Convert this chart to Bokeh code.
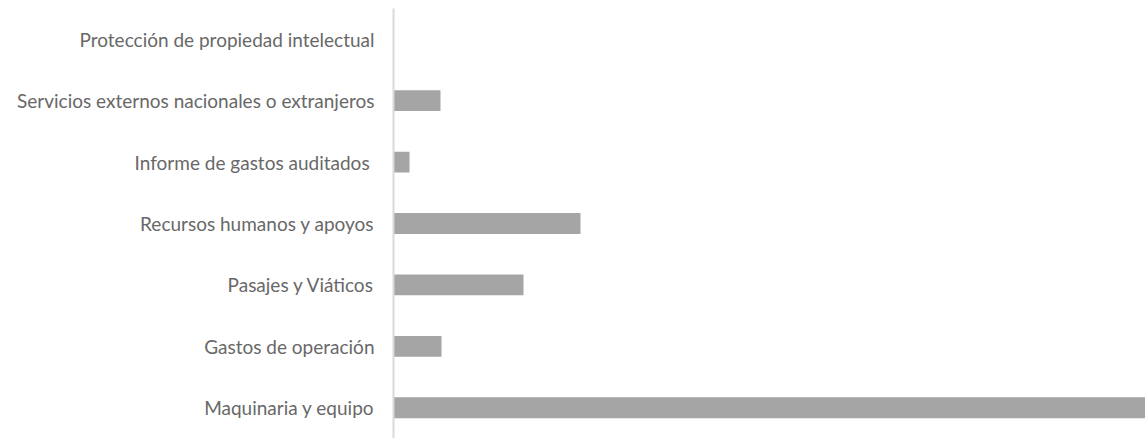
from bokeh.plotting import figure
from bokeh.models import Range1d, FactorRange
from bokeh.embed import file_html
from bokeh.resources import INLINE

categories = [
    "Maquinaria y equipo",
    "Gastos de operación",
    "Pasajes y Viáticos",
    "Recursos humanos y apoyos",
    "Informe  de gastos auditados",
    "Servicios externos nacionales o extranjeros",
    "Protección de propiedad intelectual",
]
values = [752, 48, 130, 187, 16, 47, 0]

p = figure(
    width=1145, height=438,
    y_range=FactorRange(*categories, range_padding=0),
    x_range=Range1d(0, 752),
    output_backend="svg", toolbar_location=None,
    min_border_left=393, min_border_right=0,
    min_border_top=8, min_border_bottom=0,
)
p.hbar(y=categories, right=values, left=0, height=0.34,
       fill_color="#a5a5a5", line_color=None)

p.xaxis.visible = False
p.xgrid.visible = False
p.ygrid.visible = False
p.outline_line_color = None
p.background_fill_color = "white"
p.border_fill_color = "white"

ax = p.yaxis[0]
ax.axis_line_color = "#d9d9d9"
ax.axis_line_width = 2
ax.major_tick_line_color = None
ax.minor_tick_line_color = None
ax.major_label_standoff = 13
ax.major_label_text_font = "Lato"
ax.major_label_text_font_size = "19px"
ax.major_label_text_color = "#686868"

open("out.html", "w").write(file_html(p, INLINE))
